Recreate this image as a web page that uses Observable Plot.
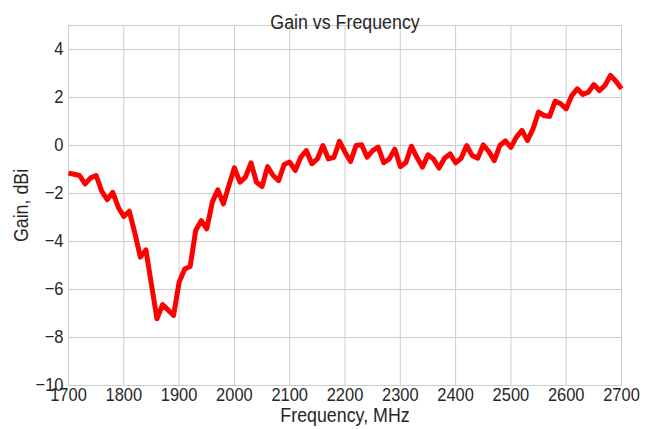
<!DOCTYPE html>
<html>
<head>
<meta charset="utf-8">
<script src="https://cdn.jsdelivr.net/npm/d3@7"></script>
<script src="https://cdn.jsdelivr.net/npm/@observablehq/plot@0.6"></script>
<style>
  html, body { margin: 0; padding: 0; background: #fff; }
  svg { font-family: "Liberation Sans", Arial, sans-serif; }
</style>
</head>
<body>
<div id="chart"></div>
<script>
const title = "Gain vs Frequency";
const xLabel = "Frequency, MHz";
const yLabel = "Gain, dBi";
const xTicks = [1700, 1800, 1900, 2000, 2100, 2200, 2300, 2400, 2500, 2600, 2700];
const yTicks = [-10, -8, -6, -4, -2, 0, 2, 4];

const frequency = [
  1700, 1710, 1720, 1730, 1740, 1750, 1760, 1770, 1780, 1790,
  1800, 1810, 1820, 1830, 1840, 1850, 1860, 1870, 1880, 1890,
  1900, 1910, 1920, 1930, 1940, 1950, 1960, 1970, 1980, 1990,
  2000, 2010, 2020, 2030, 2040, 2050, 2060, 2070, 2080, 2090,
  2100, 2110, 2120, 2130, 2140, 2150, 2160, 2170, 2180, 2190,
  2200, 2210, 2220, 2230, 2240, 2250, 2260, 2270, 2280, 2290,
  2300, 2310, 2320, 2330, 2340, 2350, 2360, 2370, 2380, 2390,
  2400, 2410, 2420, 2430, 2440, 2450, 2460, 2470, 2480, 2490,
  2500, 2510, 2520, 2530, 2540, 2550, 2560, 2570, 2580, 2590,
  2600, 2610, 2620, 2630, 2640, 2650, 2660, 2670, 2680, 2690,
  2700
];
const gain = [
  -1.15, -1.2, -1.25, -1.6, -1.35, -1.25, -1.9, -2.26, -1.95, -2.57,
  -2.96, -2.74, -3.65, -4.65, -4.35, -5.8, -7.22, -6.63, -6.85, -7.08,
  -5.7, -5.15, -5.04, -3.54, -3.13, -3.47, -2.36, -1.85, -2.43, -1.67,
  -0.93, -1.53, -1.32, -0.72, -1.53, -1.71, -0.88, -1.25, -1.46, -0.79,
  -0.69, -1.04, -0.49, -0.21, -0.76, -0.56, 0.0, -0.56, -0.49, 0.17,
  -0.28, -0.67, 0.0, 0.03, -0.49, -0.21, -0.07, -0.72, -0.56, -0.15,
  -0.88, -0.72, -0.03, -0.49, -0.9, -0.39, -0.56, -0.94, -0.53, -0.35,
  -0.72, -0.53, 0.0, -0.42, -0.53, 0.03, -0.25, -0.63, 0.0, 0.19,
  -0.08, 0.35, 0.63, 0.21, 0.69, 1.39, 1.25, 1.21, 1.85, 1.74,
  1.53, 2.08, 2.36, 2.13, 2.22, 2.54, 2.29, 2.5, 2.92, 2.68,
  2.36
];

const data = frequency.map((f, i) => ({f, g: gain[i]}));
const fmt = d => String(d).replace("-", "\u2212");

const chart = Plot.plot({
  width: 658,
  height: 429,
  marginLeft: 68,
  marginRight: 37,
  marginTop: 25,
  marginBottom: 44,
  style: {fontFamily: '"Liberation Sans", Arial, sans-serif', background: "#fff", color: "#262626"},
  x: {domain: [1700, 2700]},
  y: {domain: [-10, 5]},
  marks: [
    Plot.gridX(xTicks, {stroke: "#cccccc", strokeOpacity: 1, strokeWidth: 1}),
    Plot.gridY(yTicks, {stroke: "#cccccc", strokeOpacity: 1, strokeWidth: 1}),
    Plot.frame({stroke: "#cccccc", strokeWidth: 1}),
    Plot.axisX(xTicks, {tickSize: 0, tickPadding: 2, tickFormat: fmt, label: xLabel, labelAnchor: "center", labelArrow: "none", labelOffset: 36}),
    Plot.axisY(yTicks, {tickSize: 0, tickPadding: 5, tickFormat: fmt, label: yLabel, labelAnchor: "center", labelArrow: "none", labelOffset: 55}),
    Plot.line(data, {x: "f", y: "g", stroke: "#ff0000", strokeWidth: 5, strokeLinejoin: "round", strokeLinecap: "butt"}),
    Plot.text([title], {frameAnchor: "top", dy: -11})
  ]
});
const big = new Set([title, xLabel, yLabel]);
chart.querySelectorAll("text").forEach(t => {
  t.style.fontSize = big.has(t.textContent.trim()) ? "20px" : "18.5px";
  t.style.fill = "#262626";
});
document.getElementById("chart").appendChild(chart);
chart.querySelectorAll("text").forEach(t => {
  const L = t.getComputedTextLength();
  if (L > 0) {
    t.setAttribute("textLength", (L * 0.89).toFixed(1));
    t.setAttribute("lengthAdjust", "spacingAndGlyphs");
  }
});
</script>
</body>
</html>
